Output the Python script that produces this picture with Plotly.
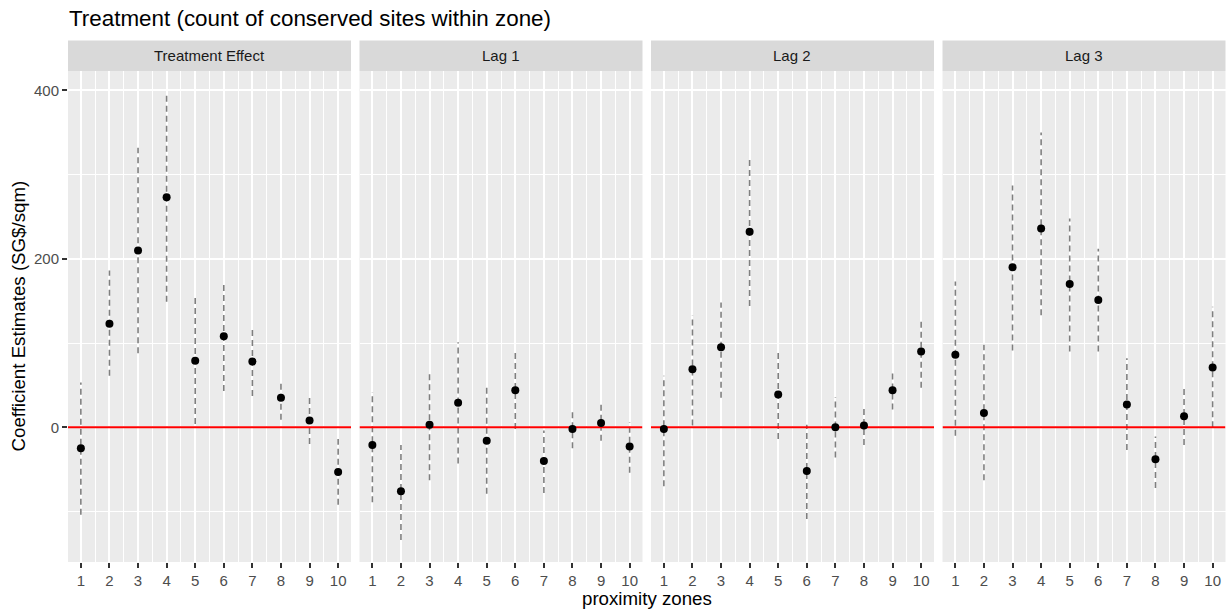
import plotly.graph_objects as go

# ---------------- data ----------------
zones = [1, 2, 3, 4, 5, 6, 7, 8, 9, 10]
panels = ["Treatment Effect", "Lag 1", "Lag 2", "Lag 3"]

est_treat = [-25, 123, 210, 273, 79, 108, 78, 35, 8, -53]
lo_treat = [-104, 61, 88, 149, 4, 43, 37, 9, -20, -92]
hi_treat = [53, 186, 332, 397, 154, 171, 116, 54, 36, -14]

est_lag1 = [-21, -76, 3, 29, -16, 44, -40, -2, 5, -23]
lo_lag1 = [-89, -134, -63, -43, -79, -2, -78, -25, -16, -54]
hi_lag1 = [42, -21, 67, 101, 47, 91, -4, 18, 27, 6]

est_lag2 = [-2, 69, 95, 232, 39, -52, 0, 2, 44, 90]
lo_lag2 = [-70, 2, 35, 144, -14, -109, -36, -21, 21, 47]
hi_lag2 = [61, 133, 148, 320, 91, 3, 36, 23, 64, 126]

est_lag3 = [86, 17, 190, 236, 170, 151, 27, -38, 13, 71]
lo_lag3 = [-10, -63, 91, 133, 90, 90, -27, -72, -21, 0]
hi_lag3 = [173, 98, 287, 350, 248, 212, 82, -11, 48, 143]

estimates = [est_treat, est_lag1, est_lag2, est_lag3]
lowers = [lo_treat, lo_lag1, lo_lag2, lo_lag3]
uppers = [hi_treat, hi_lag1, hi_lag2, hi_lag3]

reference_value = 0
y_major = [0, 200, 400]
y_minor = [-100, 100, 300]
x_range = [0.55, 10.45]
y_range = [-160, 423]

# ---------------- layout geometry ----------------
W, H = 1227, 611
panel_px = [(68, 351), (359.5, 642.5), (651, 934), (942.5, 1225.5)]
plot_top, plot_bot = 71, 562
strip_top = 40.5

FONT = "Liberation Sans, Arial, Helvetica, sans-serif"


def px_x(p):
    return p / W


def px_y(p):
    return 1 - p / H


fig = go.Figure()
layout = dict(
    width=W, height=H, autosize=False,
    margin=dict(l=0, r=0, t=0, b=0),
    paper_bgcolor="white", plot_bgcolor="#EBEBEB",
    showlegend=False,
    font=dict(family=FONT, color="#4D4D4D"),
)
shapes = []
annotations = []

x_minor = [z + 0.5 for z in zones[:-1]]

for i, name in enumerate(panels):
    n = i + 1
    xa = "x" if n == 1 else f"x{n}"
    ya = "y" if n == 1 else f"y{n}"
    est, lo, hi = estimates[i], lowers[i], uppers[i]

    # error bars (dashed)
    ex, ey = [], []
    for z, l, h in zip(zones, lo, hi):
        ex += [z, z, None]
        ey += [l, h, None]
    fig.add_trace(go.Scatter(
        x=ex, y=ey, mode="lines", xaxis=xa, yaxis=ya,
        line=dict(color="#7F7F7F", width=1.6, dash="6px,4px"),
        hoverinfo="skip"))
    # red reference line at zero
    fig.add_trace(go.Scatter(
        x=x_range, y=[reference_value, reference_value], mode="lines",
        xaxis=xa, yaxis=ya, line=dict(color="#FF0000", width=2),
        hoverinfo="skip"))
    # points
    fig.add_trace(go.Scatter(
        x=zones, y=est, mode="markers", xaxis=xa, yaxis=ya,
        marker=dict(color="black", size=8, line=dict(width=0))))

    x0, x1 = panel_px[i]
    layout[f"xaxis{'' if n == 1 else n}"] = dict(
        domain=[px_x(x0), px_x(x1)], range=x_range,
        anchor=ya, tickmode="array", tickvals=zones,
        ticktext=[str(z) for z in zones],
        ticks="outside", ticklen=5, tickwidth=1.8, tickcolor="#333333",
        showgrid=True, gridcolor="white", gridwidth=1.8,
        minor=dict(tickvals=x_minor, showgrid=True, gridcolor="white",
                   gridwidth=1.0, ticks=""),
        zeroline=False, showline=False,
        tickfont=dict(size=15, color="#4D4D4D"),
        fixedrange=True,
    )
    yax = dict(
        domain=[px_y(plot_bot), px_y(plot_top)], range=y_range,
        anchor=xa, tickmode="array", tickvals=y_major,
        showgrid=True, gridcolor="white", gridwidth=1.8,
        minor=dict(tickvals=y_minor, showgrid=True, gridcolor="white",
                   gridwidth=1.0, ticks=""),
        zeroline=False, showline=False,
        tickfont=dict(size=15, color="#4D4D4D"),
        fixedrange=True,
    )
    if n == 1:
        yax.update(ticks="outside", ticklen=5, tickwidth=1.8,
                   tickcolor="#333333", showticklabels=True)
    else:
        yax.update(ticks="", showticklabels=False, matches="y")
    layout[f"yaxis{'' if n == 1 else n}"] = yax

    # strip
    shapes.append(dict(
        type="rect", xref="paper", yref="paper",
        x0=px_x(x0), x1=px_x(x1), y0=px_y(plot_top), y1=px_y(strip_top),
        fillcolor="#D9D9D9", line=dict(width=0), layer="below"))
    annotations.append(dict(
        text=name, xref="paper", yref="paper",
        x=px_x((x0 + x1) / 2), y=px_y((plot_top + strip_top) / 2),
        xanchor="center", yanchor="middle", showarrow=False,
        font=dict(size=15, color="#1A1A1A", family=FONT)))

# title
annotations.append(dict(
    text="Treatment (count of conserved sites within zone)",
    xref="paper", yref="paper", x=px_x(66.5), y=px_y(19),
    xanchor="left", yanchor="middle", showarrow=False,
    font=dict(size=22.4, color="black", family=FONT)))
# axis titles
annotations.append(dict(
    text="proximity zones", xref="paper", yref="paper",
    x=px_x((68 + 1225.5) / 2), y=px_y(598),
    xanchor="center", yanchor="middle", showarrow=False,
    font=dict(size=18.7, color="black", family=FONT)))
annotations.append(dict(
    text="Coefficient Estimates (SG$/sqm)", xref="paper", yref="paper",
    x=px_x(18), y=px_y((plot_top + plot_bot) / 2), textangle=-90,
    xanchor="center", yanchor="middle", showarrow=False,
    font=dict(size=18.7, color="black", family=FONT)))

layout["shapes"] = shapes
layout["annotations"] = annotations
fig.update_layout(**layout)

fig.write_html("out.html")
